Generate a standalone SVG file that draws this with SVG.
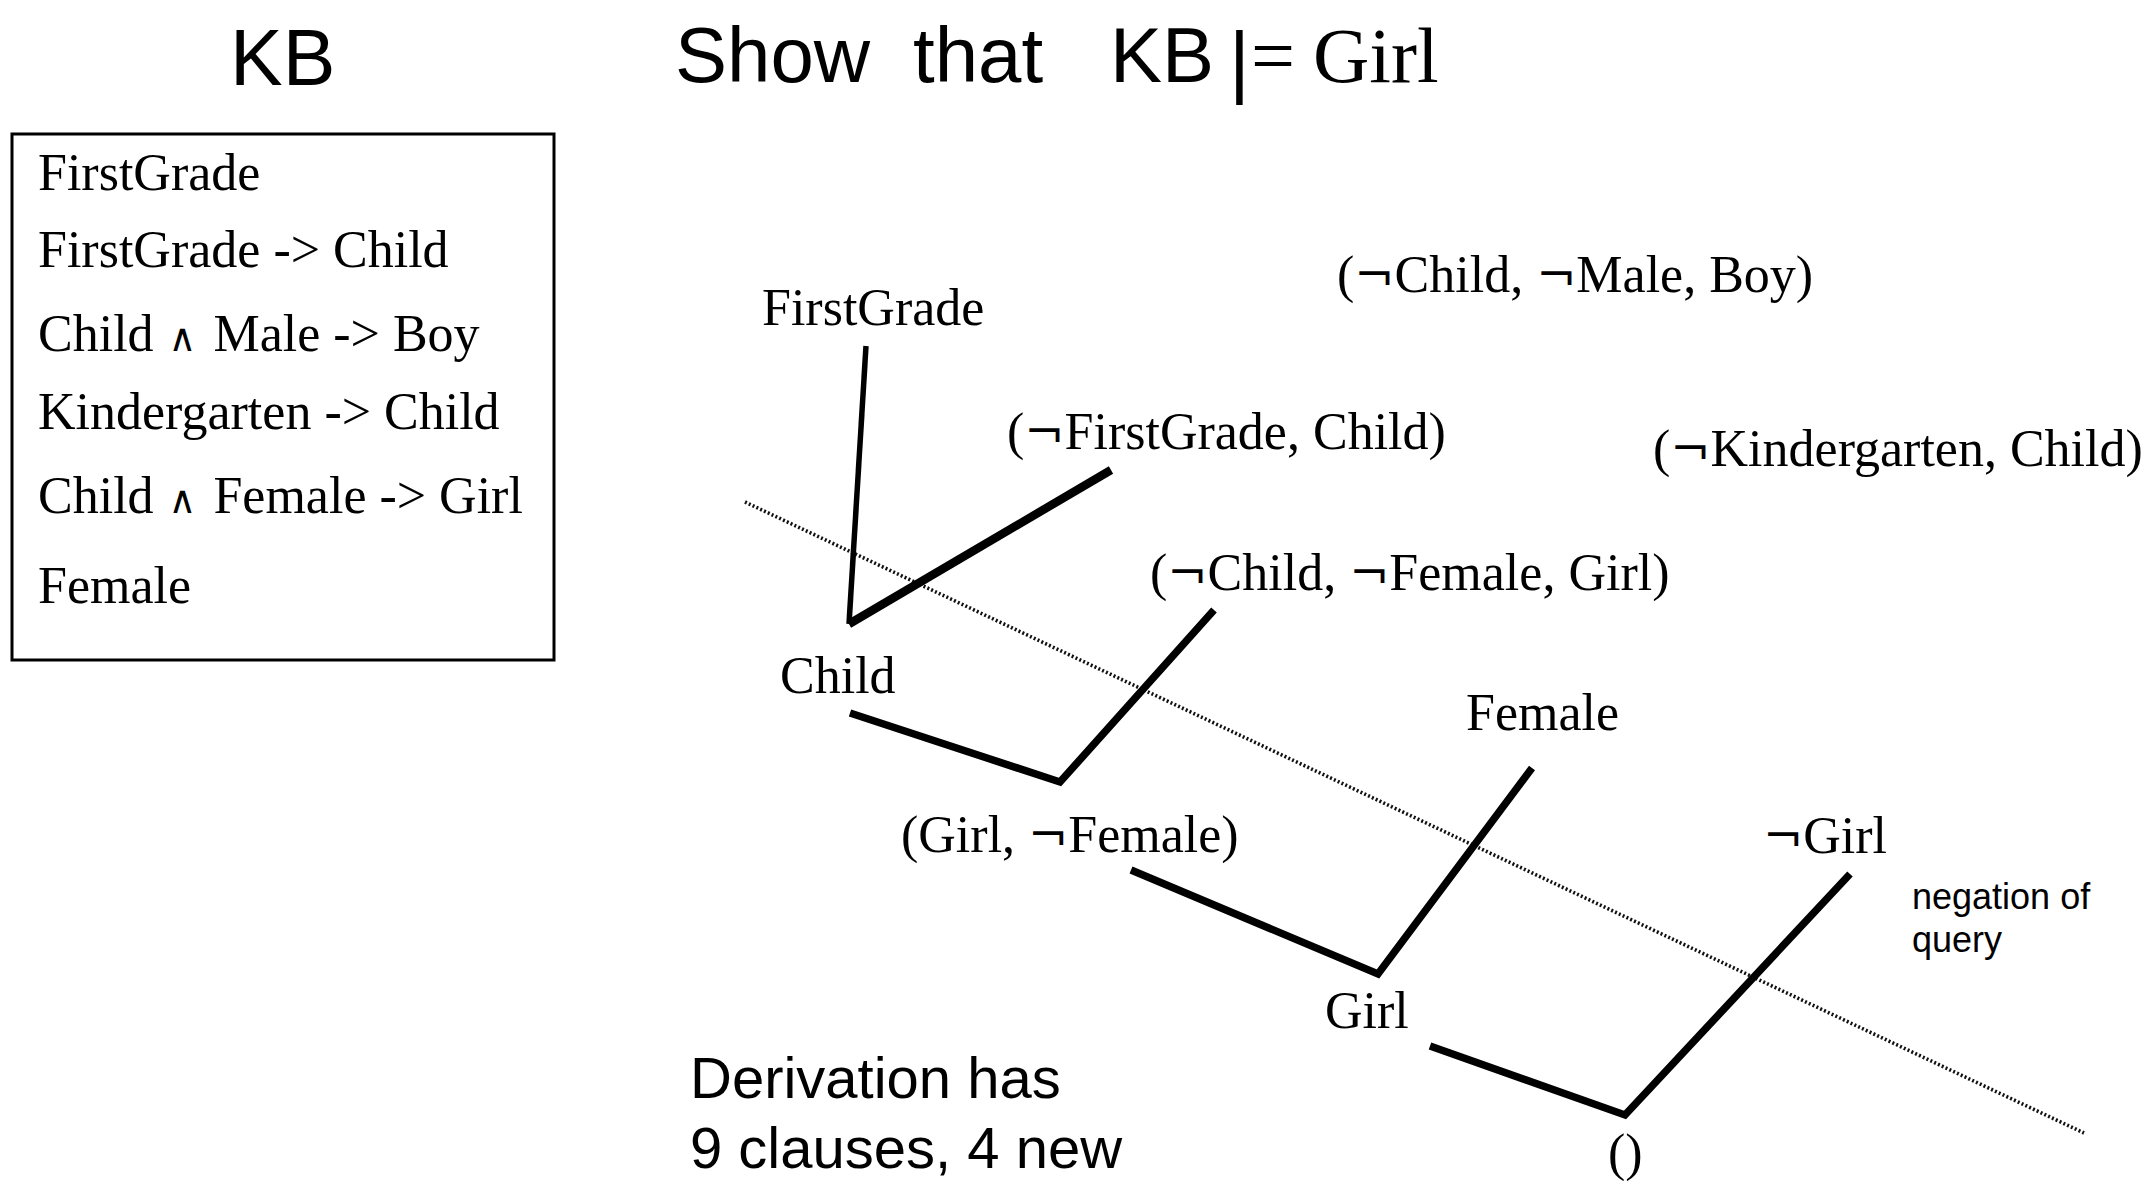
<svg xmlns="http://www.w3.org/2000/svg" width="2151" height="1181" viewBox="0 0 2151 1181">
<style>
.sans{font-family:"Liberation Sans",Arial,sans-serif;fill:#000}
.serif{font-family:"Liberation Serif","Times New Roman",serif;fill:#000;font-size:52px}
.big{font-size:78px}
.and{font-family:"DejaVu Serif","Liberation Serif",serif;font-size:38px}
.neg{font-family:"DejaVu Serif","Liberation Serif",serif;font-size:48px}
.edge{stroke:#000;fill:none;stroke-linecap:butt;stroke-linejoin:miter}
.cut{stroke:#111;stroke-width:3.6;stroke-dasharray:2 2.2;fill:none}
</style>
<rect width="2151" height="1181" fill="#fff"/>
<g id="kb-title"><text class="sans" x="230" y="85" font-size="79">KB</text></g>
<g id="goal-title">
<text class="sans" x="675" y="82" font-size="78">Show</text>
<text class="sans" x="913" y="82" font-size="78">that</text>
<text x="1110" y="82"><tspan class="sans" font-size="78">KB</tspan><tspan class="sans" font-size="80" x="1229" y="88">|</tspan><tspan class="serif big" x="1251" y="82">=</tspan><tspan class="serif big" x="1313" y="82">Girl</tspan></text>
</g>
<g id="kb-box">
<rect x="12" y="134" width="542" height="526" fill="none" stroke="#000" stroke-width="3"/>
<text class="serif" x="38" y="190">FirstGrade</text>
<text class="serif" x="38" y="267">FirstGrade -&gt; Child</text>
<text class="serif" x="38" y="351">Child <tspan class="and" dx="2">∧</tspan><tspan dx="4"> Male -&gt; Boy</tspan></text>
<text class="serif" x="38" y="429">Kindergarten -&gt; Child</text>
<text class="serif" x="38" y="513">Child <tspan class="and" dx="2">∧</tspan><tspan dx="4"> Female -&gt; Girl</tspan></text>
<text class="serif" x="38" y="603">Female</text>
</g>
<g id="connectors">
<line class="cut" x1="745" y1="502" x2="2084" y2="1133"/>
<line class="edge" stroke-width="5.5" x1="866" y1="346" x2="849" y2="624"/>
<line class="edge" stroke-width="8.5" x1="849" y1="624" x2="1111" y2="470"/>
<polyline class="edge" stroke-width="7.5" points="850,713 1060,782 1214,610"/>
<polyline class="edge" stroke-width="7.5" points="1131,870 1378,974 1532,768"/>
<polyline class="edge" stroke-width="7.5" points="1430,1046 1625,1115 1850,874"/>
</g>
<g id="n-firstgrade"><text class="serif" x="762" y="325">FirstGrade</text></g>
<g id="n-c1"><text class="serif" x="1007" y="449">(<tspan class="neg">¬</tspan>FirstGrade, Child)</text></g>
<g id="n-c2"><text class="serif" x="1337" y="292">(<tspan class="neg">¬</tspan>Child, <tspan class="neg">¬</tspan>Male, Boy)</text></g>
<g id="n-c3"><text class="serif" x="1653" y="466">(<tspan class="neg">¬</tspan>Kindergarten, Child)</text></g>
<g id="n-c4"><text class="serif" x="1150" y="590">(<tspan class="neg">¬</tspan>Child, <tspan class="neg">¬</tspan>Female, Girl)</text></g>
<g id="n-child"><text class="serif" x="780" y="693">Child</text></g>
<g id="n-female"><text class="serif" x="1466" y="730">Female</text></g>
<g id="n-girl-notfemale"><text class="serif" x="901" y="852">(Girl, <tspan class="neg">¬</tspan>Female)</text></g>
<g id="n-notgirl"><text class="serif" x="1763" y="853"><tspan class="neg">¬</tspan>Girl</text></g>
<g id="n-girl"><text class="serif" x="1325" y="1028">Girl</text></g>
<g id="n-empty"><text class="serif" x="1608" y="1170">()</text></g>
<g id="note-negation">
<text class="sans" x="1912" y="909" font-size="36">negation of</text>
<text class="sans" x="1912" y="952" font-size="36">query</text>
</g>
<g id="note-derivation">
<text class="sans" x="690" y="1098" font-size="58">Derivation has</text>
<text class="sans" x="690" y="1168" font-size="58">9 clauses, 4 new</text>
</g>
</svg>
